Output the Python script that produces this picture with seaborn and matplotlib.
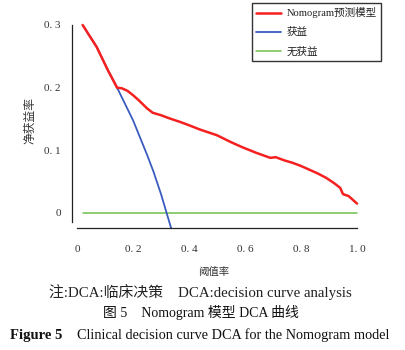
import matplotlib
matplotlib.use("Agg")
import matplotlib.pyplot as plt
import seaborn as sns
import pandas as pd

# ---- data ----
model_x = [0.02, 0.07, 0.11, 0.143, 0.16, 0.18, 0.20, 0.22, 0.25, 0.27,
           0.30, 0.33, 0.37, 0.40, 0.44, 0.50, 0.55, 0.59, 0.64, 0.69, 0.71, 0.74,
           0.77, 0.80, 0.82, 0.86, 0.89, 0.92, 0.94, 0.95, 0.97, 0.985, 1.00]
model_y = [0.300, 0.265, 0.228, 0.200, 0.199, 0.195, 0.188, 0.180, 0.167, 0.160,
           0.156, 0.151, 0.145, 0.140, 0.133, 0.124, 0.113, 0.105, 0.096, 0.088, 0.089, 0.084,
           0.080, 0.075, 0.071, 0.063, 0.056, 0.047, 0.040, 0.030, 0.027, 0.021, 0.015]
all_x = [0.02, 0.07, 0.11, 0.143, 0.20, 0.25, 0.273, 0.30, 0.32, 0.34]
all_y = [0.300, 0.265, 0.228, 0.200, 0.148, 0.093, 0.066, 0.030, 0.000, -0.030]
none_x = [0.02, 1.00]
none_y = [0.0, 0.0]

series_names = ["Nomogram预测模型", "获益", "无获益"]
x_ticks = [0.0, 0.2, 0.4, 0.6, 0.8, 1.0]
x_tick_labels = ["0", "0. 2", "0. 4", "0. 6", "0. 8", "1. 0"]
y_ticks = [0.0, 0.1, 0.2, 0.3]
y_tick_labels = ["0", "0. 1", "0. 2", "0. 3"]
x_label = "阈值率"
y_label = "净获益率"
note = "注:DCA:临床决策    DCA:decision curve analysis"
title_cn = "图 5    Nomogram 模型 DCA 曲线"
title_en_bold = "Figure 5"
title_en = "Clinical decision curve DCA for the Nomogram model"

sns.set_style("white")
plt.rcParams["font.family"] = ["Liberation Serif", "Noto Sans CJK SC", "DejaVu Sans"]

fig = plt.figure(figsize=(4.05, 3.5), dpi=100)
ax = fig.add_axes([72 / 405, 1 - 228 / 350, 288 / 405, 203 / 350])

df_model = pd.DataFrame({"x": model_x, "y": model_y})
df_all = pd.DataFrame({"x": all_x, "y": all_y})
df_none = pd.DataFrame({"x": none_x, "y": none_y})

sns.lineplot(data=df_none, x="x", y="y", ax=ax, color="#6cc04a", lw=1.1,
             label=series_names[2], sort=False)
sns.lineplot(data=df_all, x="x", y="y", ax=ax, color="#3a5cc0", lw=1.3,
             label=series_names[1], sort=False)
sns.lineplot(data=df_model, x="x", y="y", ax=ax, color="#f52020", lw=1.8,
             label=series_names[0], sort=False)

ax.set_xlim(-0.018, 1.0107)
ax.set_ylim(-0.024, 0.3)
ax.get_lines()[2].set_clip_on(False)

for s in ["top", "right"]:
    ax.spines[s].set_visible(False)
ax.spines["bottom"].set_bounds(0, 1)
ax.spines["left"].set_bounds(-0.014, 0.3)
for s in ["bottom", "left"]:
    ax.spines[s].set_color("#222222")
    ax.spines[s].set_linewidth(0.9)

ax.set_xticks(x_ticks)
ax.set_xticklabels(x_tick_labels)
ax.set_yticks(y_ticks)
ax.set_yticklabels(y_tick_labels)
ax.tick_params(axis="x", direction="in", length=3, width=0.9, pad=12,
               labelsize=8, colors="#222222", labelcolor="#333333")
ax.tick_params(axis="y", direction="out", length=4, width=0.9, pad=4,
               labelsize=8, colors="#222222", labelcolor="#333333")
ax.set_xlabel("")
ax.set_ylabel(y_label, fontsize=8.5, color="#333333",
              family=["Noto Sans CJK SC"])
ax.yaxis.set_label_coords(-0.124, 0.53)
fig.text(214 / 405, 1 - 272 / 350, x_label, ha="center", va="center",
         fontsize=7.5, color="#333333", family=["Noto Sans CJK SC"])

# legend
handles, labels = ax.get_legend_handles_labels()
order = [2, 1, 0]
leg = ax.legend([handles[i] for i in order], [labels[i] for i in order],
                loc="upper right", bbox_to_anchor=(381 / 405, 1 - 3 / 350),
                bbox_transform=fig.transFigure, borderaxespad=0,
                frameon=True, fancybox=False, edgecolor="black",
                handlelength=2.4, handletextpad=0.5,
                labelspacing=0.85, borderpad=0.4,
                prop={"family": ["Liberation Serif", "Noto Sans CJK SC"], "size": 7.6})
leg.get_frame().set_linewidth(1.0)
for t in leg.get_texts():
    t.set_color("#222222")

# captions
fig.text(200 / 405, 1 - 292 / 350, note, ha="center", va="center",
         fontsize=10.7, color="#222222")
fig.text(201 / 405, 1 - 313 / 350, title_cn, ha="center", va="center",
         fontsize=10, color="#111111")
fig.text(10 / 405, 1 - 335 / 350, title_en_bold, ha="left", va="center",
         fontsize=10.5, fontweight="bold", color="#111111")
fig.text(77 / 405, 1 - 335 / 350, title_en, ha="left", va="center",
         fontsize=10.3, color="#111111")

fig.savefig("out.png", dpi=100, facecolor="white")
